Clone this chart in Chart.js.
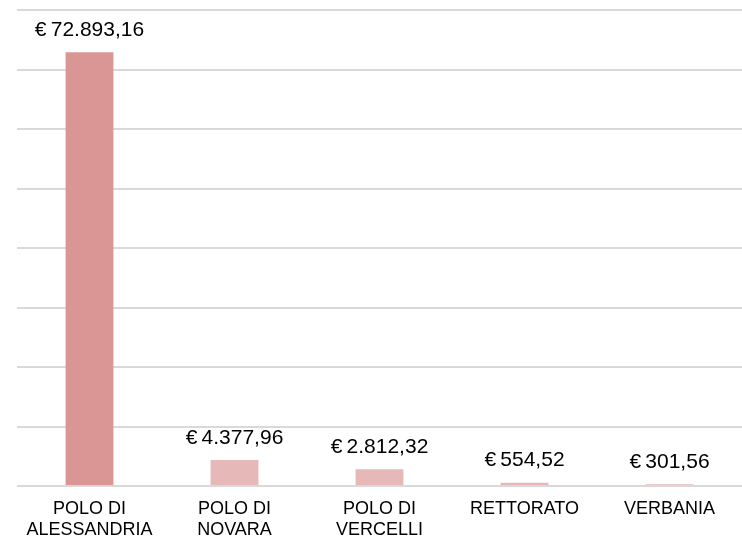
<!DOCTYPE html>
<html>
<head>
<meta charset="utf-8">
<script src="https://cdn.jsdelivr.net/npm/chart.js@4/dist/chart.umd.min.js"></script>
<style>
  html, body { margin: 0; padding: 0; background: #fff; }
  #wrap { width: 742px; height: 536px; position: relative; }
</style>
</head>
<body>
<div id="wrap"><canvas id="costChart"></canvas></div>
<script>
const categories = [["POLO DI", "ALESSANDRIA"], ["POLO DI", "NOVARA"], ["POLO DI", "VERCELLI"], "RETTORATO", "VERBANIA"];
const importi = [72893.16, 4377.96, 2812.32, 554.52, 301.56];
const barColors = ['#D99694', '#E6B9B8', '#E6B9B8', '#E6B9B8', '#E6B9B8'];

function formatEuro(v) {
  const parts = v.toFixed(2).split('.');
  const intPart = parts[0].replace(/\B(?=(\d{3})+(?!\d))/g, '.');
  return '\u20AC\u2009' + intPart + ',' + parts[1];
}

// etichette sopra le barre
const valueLabels = {
  id: 'valueLabels',
  afterDatasetsDraw(chart) {
    const ctx = chart.ctx;
    const meta = chart.getDatasetMeta(0);
    ctx.save();
    ctx.font = '21px "Liberation Sans", Arial, sans-serif';
    ctx.fillStyle = '#000';
    ctx.textAlign = 'center';
    ctx.textBaseline = 'middle';
    meta.data.forEach((bar, i) => {
      ctx.fillText(formatEuro(importi[i]), bar.x, bar.y - 22);
    });
    ctx.restore();
  }
};

const ctx = document.getElementById('costChart').getContext('2d');
new Chart(ctx, {
  type: 'bar',
  data: {
    labels: categories,
    datasets: [{
      data: importi,
      backgroundColor: barColors,
      categoryPercentage: 1,
      barPercentage: 0.33
    }]
  },
  options: {
    responsive: true,
    maintainAspectRatio: false,
    animation: false,
    layout: { padding: { left: 17, right: 0, top: 10, bottom: 0 } },
    plugins: {
      legend: { display: false },
      tooltip: { enabled: false }
    },
    scales: {
      x: {
        grid: { display: false },
        border: { display: false },
        afterFit(scale) { scale.height = 50; },
        ticks: {
          color: '#000',
          font: { family: '"Liberation Sans", Arial, sans-serif', size: 18 },
          maxRotation: 0,
          autoSkip: false,
          padding: 4
        }
      },
      y: {
        min: 0,
        max: 80000,
        ticks: { stepSize: 10000, display: false },
        border: { display: false },
        grid: { color: '#d9d9d9', lineWidth: 2, drawTicks: false }
      }
    }
  },
  plugins: [valueLabels]
});
</script>
</body>
</html>
